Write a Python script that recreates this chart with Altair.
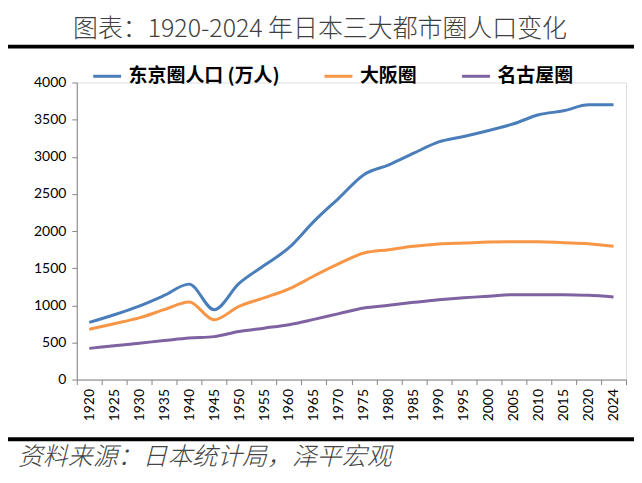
import altair as alt
import pandas as pd

years = ["1920","1925","1930","1935","1940","1945","1950","1955","1960","1965","1970",
         "1975","1980","1985","1990","1995","2000","2005","2010","2015","2020","2024"]
tokyo = [770, 873, 990, 1132, 1285, 941, 1295, 1535, 1775, 2130, 2444,
         2758, 2892, 3049, 3200, 3273, 3354, 3444, 3565, 3619, 3699, 3699]
osaka = [677, 752, 830, 941, 1045, 805, 986, 1100, 1220, 1395, 1560,
         1704, 1749, 1794, 1825, 1838, 1852, 1856, 1856, 1843, 1829, 1794]
nagoya = [420, 455, 490, 525, 560, 578, 646, 692, 738, 810, 888,
          964, 1000, 1040, 1076, 1103, 1121, 1143, 1143, 1143, 1134, 1112]
series_names = ["东京圈人口 (万人)", "大阪圈", "名古屋圈"]
colors = ["#4A7EBB", "#F79646", "#7F62A1"]
title_text = "图表：1920-2024 年日本三大都市圈人口变化"
source_text = "资料来源：日本统计局，泽平宏观"

rows = []
for name, vals in zip(series_names, [tokyo, osaka, nagoya]):
    for y, v in zip(years, vals):
        rows.append({"year": y, "value": v, "series": name})
df = pd.DataFrame(rows)
one = pd.DataFrame({"k": [0]})

W, H = 551, 298

lines = alt.Chart(df).mark_line(strokeWidth=3, interpolate="monotone").encode(
    x=alt.X("year:O", sort=years,
            scale=alt.Scale(type="band", paddingInner=0, paddingOuter=0),
            axis=alt.Axis(title=None, labelAngle=270, labelFontSize=14, labelFont="Lato",
                          labelColor="#000000", tickBand="extent", domainColor="#868686",
                          tickColor="#868686", tickSize=5, labelPadding=4, grid=False,
                          labelBaseline="middle", labelAlign="right")),
    y=alt.Y("value:Q", scale=alt.Scale(domain=[0, 4000], nice=False),
            axis=alt.Axis(title=None, values=list(range(0, 4001, 500)), format="d",
                          labelFontSize=14, labelFont="Lato", labelColor="#000000",
                          domainColor="#868686", tickColor="#868686", tickSize=5,
                          labelPadding=6, grid=False)),
    color=alt.Color("series:N", sort=series_names,
                    scale=alt.Scale(domain=series_names, range=colors),
                    legend=alt.Legend(title=None, orient="none", direction="horizontal",
                                      legendX=15, legendY=-22, symbolType="stroke",
                                      symbolSize=784, symbolStrokeWidth=3,
                                      labelFontSize=19, labelFontWeight="bold",
                                      labelFont="Noto Sans CJK SC", labelColor="#000000",
                                      columnPadding=38, labelOffset=6)),
)

top_rule = alt.Chart(one).mark_rule(color="#000000", strokeWidth=4).encode(
    x=alt.value(-80), x2=alt.value(600), y=alt.value(-36))
bottom_rule = alt.Chart(one).mark_rule(color="#000000", strokeWidth=4).encode(
    x=alt.value(-80), x2=alt.value(600), y=alt.value(358))
title = alt.Chart(one).mark_text(
    text=title_text, fontSize=25, font="Noto Sans CJK SC", fontWeight=300,
    color="#404040", align="center", baseline="middle"
).encode(x=alt.value(244), y=alt.value(-54))
source = alt.Chart(one).mark_text(
    text=source_text, fontStyle="italic", fontSize=25, fontWeight=300,
    font="Noto Sans CJK SC", color="#444444", align="left", baseline="middle"
).encode(x=alt.value(-59), y=alt.value(376))

chart = alt.layer(lines, top_rule, bottom_rule, title, source).properties(
    width=W, height=H,
    padding={"left": 69, "top": 74, "right": 8, "bottom": 93},
    autosize=alt.AutoSizeParams(type="none"),
).configure_view(stroke=None).configure(background="#ffffff")

chart.save("out.html", embed_options={"renderer": "svg", "actions": False})
